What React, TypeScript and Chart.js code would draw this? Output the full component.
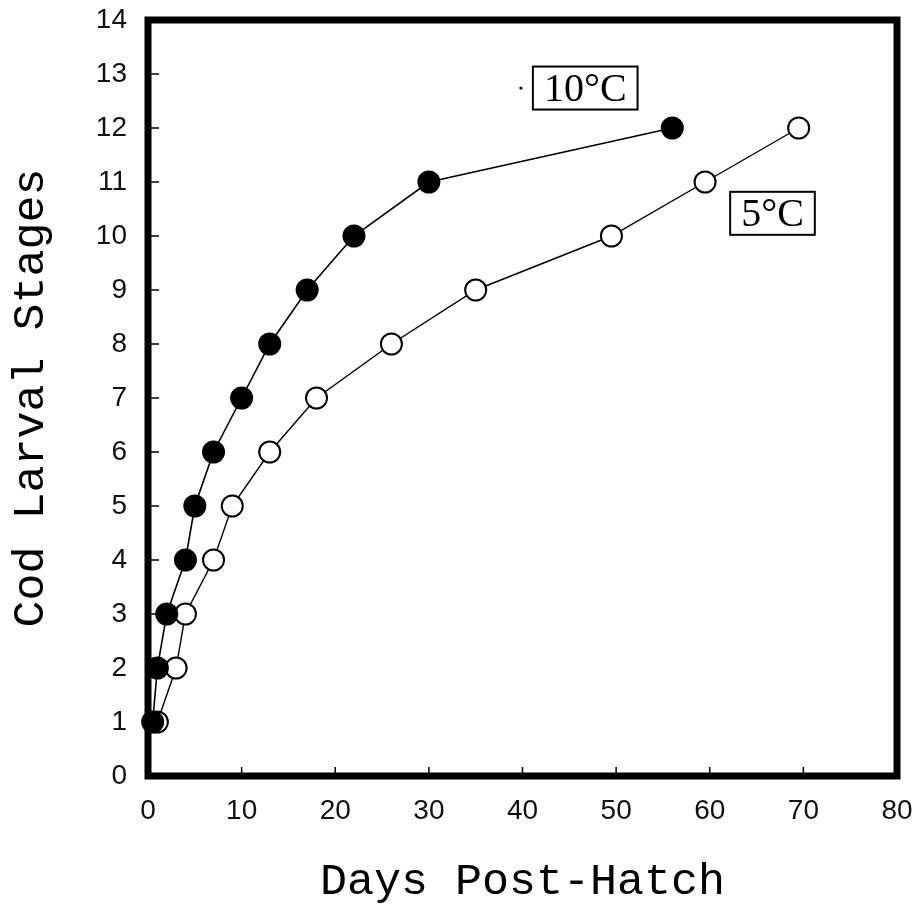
import React, { useEffect, useRef } from "react";
import { Chart, registerables } from "chart.js";

Chart.register(...registerables);

const stages = [1, 2, 3, 4, 5, 6, 7, 8, 9, 10, 11, 12];
const days10C = [0.5, 1, 2, 4, 5, 7, 10, 13, 17, 22, 30, 56];
const days5C = [1, 3, 4, 7, 9, 13, 18, 26, 35, 49.5, 59.5, 69.5];
const seriesLabels = ["10°C", "5°C"];
const labelAnchors = [
  { x: 46.7, y: 12.74 },
  { x: 66.7, y: 10.42 },
];
const xTickValues = [0, 10, 20, 30, 40, 50, 60, 70, 80];
const yTickValues = [0, 1, 2, 3, 4, 5, 6, 7, 8, 9, 10, 11, 12, 13, 14];
const xTitle = "Days Post-Hatch";
const yTitle = "Cod Larval Stages";

const framePlugin = {
  id: "frame",
  afterDatasetsDraw(chart: any) {
    const { ctx, chartArea } = chart;
    const xs = chart.scales.x;
    const ys = chart.scales.y;
    ctx.save();
    ctx.strokeStyle = "#000";
    ctx.lineWidth = 1.5;
    ys.ticks.forEach((t: any) => {
      if (t.value <= 0 || t.value >= 14) return;
      const py = ys.getPixelForValue(t.value);
      ctx.beginPath();
      ctx.moveTo(chartArea.left, py);
      ctx.lineTo(chartArea.left + 11, py);
      ctx.stroke();
    });
    xs.ticks.forEach((t: any) => {
      if (t.value <= 0 || t.value >= 80) return;
      const px = xs.getPixelForValue(t.value);
      ctx.beginPath();
      ctx.moveTo(px, chartArea.bottom);
      ctx.lineTo(px, chartArea.bottom - 9);
      ctx.stroke();
    });
    ctx.lineWidth = 7;
    ctx.strokeRect(
      chartArea.left,
      chartArea.top,
      chartArea.right - chartArea.left,
      chartArea.bottom - chartArea.top
    );
    ctx.restore();
  },
  afterDraw(chart: any) {
    const { ctx } = chart;
    const xs = chart.scales.x;
    const ys = chart.scales.y;
    ctx.save();
    ctx.font = "40px 'Liberation Serif'";
    ctx.textAlign = "center";
    ctx.textBaseline = "middle";
    seriesLabels.forEach((lab, i) => {
      const cx = xs.getPixelForValue(labelAnchors[i].x);
      const cy = ys.getPixelForValue(labelAnchors[i].y);
      const w = ctx.measureText(lab).width + 22;
      const h = 43;
      ctx.fillStyle = "#fff";
      ctx.fillRect(cx - w / 2, cy - h / 2, w, h);
      ctx.strokeStyle = "#000";
      ctx.lineWidth = 2;
      ctx.strokeRect(cx - w / 2, cy - h / 2, w, h);
      ctx.fillStyle = "#000";
      ctx.fillText(lab, cx, cy + 2);
      if (i === 0) {
        ctx.beginPath();
        ctx.arc(cx - w / 2 - 12, cy, 1.6, 0, Math.PI * 2);
        ctx.fill();
      }
    });
    ctx.restore();
  },
};

function zeroPad(scale: any) {
  scale.paddingLeft = 0;
  scale.paddingRight = 0;
  scale.paddingTop = 0;
  scale.paddingBottom = 0;
}

export default function App() {
  const ref = useRef<HTMLCanvasElement | null>(null);
  useEffect(() => {
    if (!ref.current) return;
    const chart = new Chart(ref.current, {
      type: "scatter",
      data: {
        datasets: [
          {
            label: seriesLabels[0],
            data: stages.map((s, i) => ({ x: days10C[i], y: s })),
            showLine: true,
            borderColor: "#000",
            borderWidth: 1.6,
            backgroundColor: "#000",
            pointBackgroundColor: "#000",
            pointBorderColor: "#000",
            pointBorderWidth: 2,
            pointRadius: 10.5,
            clip: false as any,
          },
          {
            label: seriesLabels[1],
            data: stages.map((s, i) => ({ x: days5C[i], y: s })),
            showLine: true,
            borderColor: "#000",
            borderWidth: 1.4,
            backgroundColor: "#fff",
            pointBackgroundColor: "#fff",
            pointBorderColor: "#000",
            pointBorderWidth: 2,
            pointRadius: 10.5,
            clip: false as any,
          },
        ],
      },
      options: {
        animation: false,
        responsive: false,
        maintainAspectRatio: false,
        layout: { padding: { top: 20, right: 24, left: 0, bottom: 0 } },
        plugins: { legend: { display: false }, tooltip: { enabled: false } },
        scales: {
          x: {
            type: "linear",
            min: 0,
            max: 80,
            afterBuildTicks(scale: any) {
              scale.ticks = xTickValues.map((v) => ({ value: v }));
            },
            afterFit(scale: any) {
              scale.height = 135;
              zeroPad(scale);
            },
            grid: { display: false, drawTicks: false },
            border: { display: false },
            ticks: {
              padding: 18,
              color: "#111",
              font: { family: "'Liberation Sans'", size: 28 },
              maxRotation: 0,
              autoSkip: false,
            },
            title: {
              display: true,
              text: xTitle,
              color: "#000",
              font: { family: "'Liberation Mono'", size: 45 },
              padding: { top: 0, bottom: 2 },
            },
          },
          y: {
            type: "linear",
            min: 0,
            max: 14,
            afterBuildTicks(scale: any) {
              scale.ticks = yTickValues.map((v) => ({ value: v }));
            },
            afterFit(scale: any) {
              scale.width = 148;
              zeroPad(scale);
            },
            grid: { display: false, drawTicks: false },
            border: { display: false },
            ticks: {
              padding: 21,
              color: "#111",
              font: { family: "'Liberation Sans'", size: 28 },
              autoSkip: false,
            },
            title: {
              display: true,
              text: yTitle,
              color: "#000",
              font: { family: "'Liberation Mono'", size: 45 },
              padding: { top: 4, bottom: 0 },
            },
          },
        },
      },
      plugins: [framePlugin],
    });
    return () => chart.destroy();
  }, []);

  return (
    <div style={{ position: "fixed", left: 0, top: 0, width: 921, height: 911, background: "#fff" }}>
      <canvas ref={ref} width={921} height={911} style={{ width: 921, height: 911, display: "block" }} />
    </div>
  );
}
